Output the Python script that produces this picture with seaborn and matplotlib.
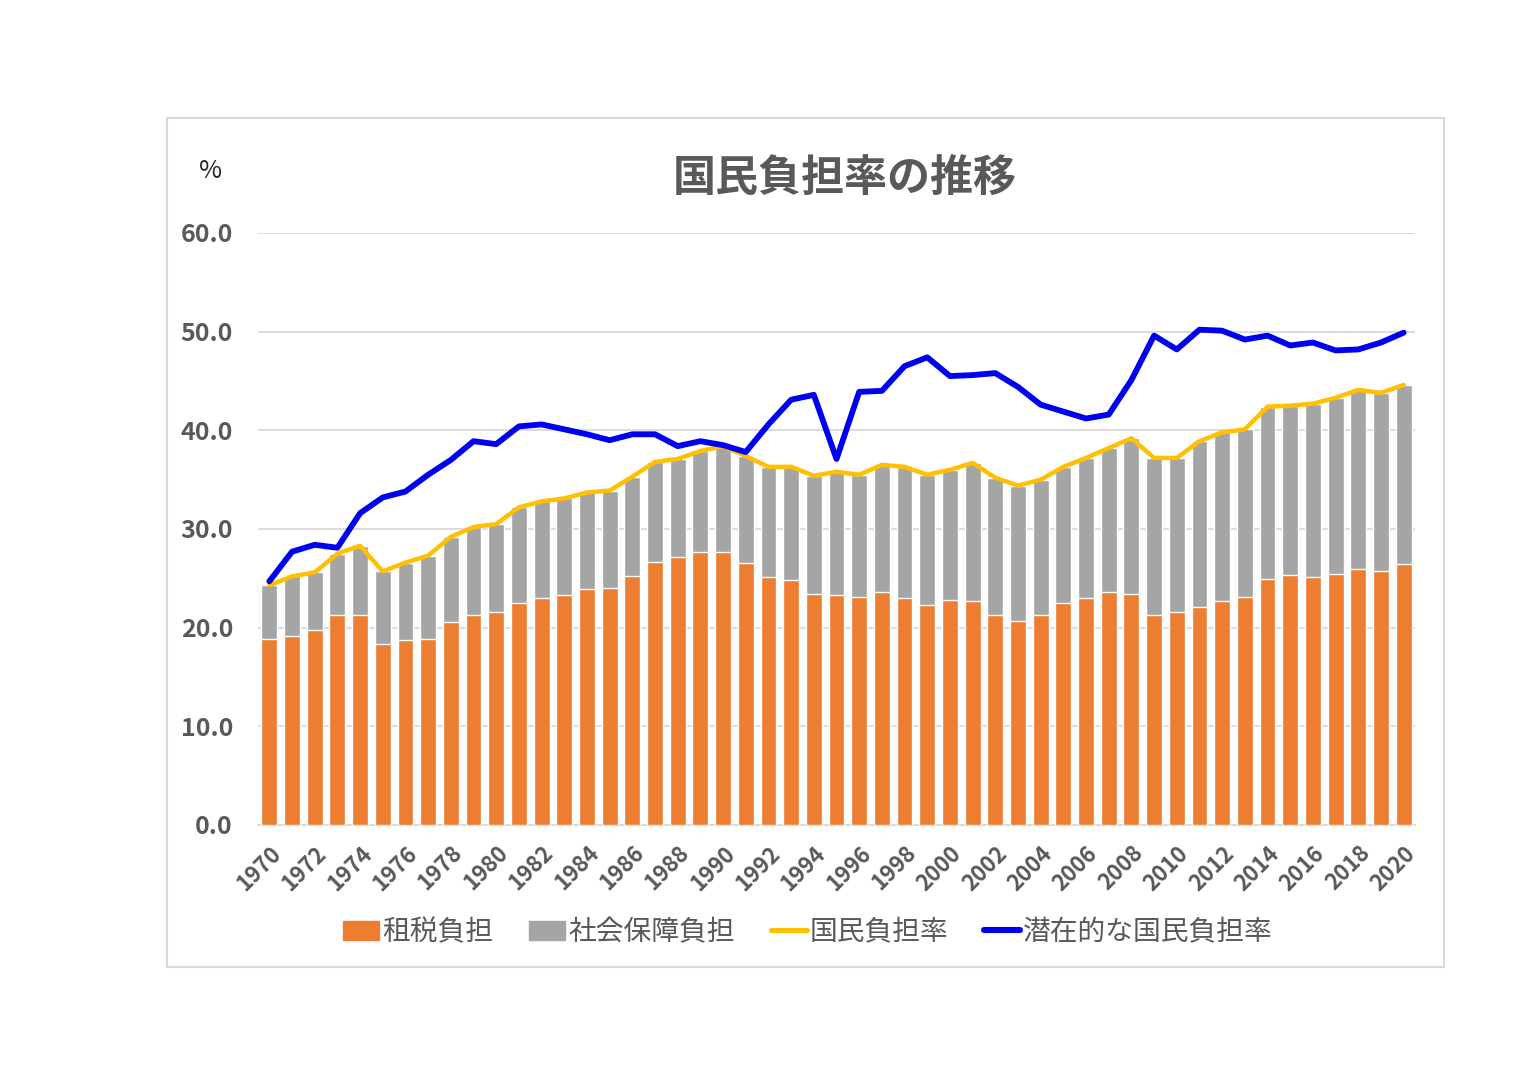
import numpy as np
import pandas as pd
import matplotlib
matplotlib.use("Agg")
import matplotlib.pyplot as plt
from matplotlib.patches import Rectangle, Patch
from matplotlib.lines import Line2D
import seaborn as sns

# 年度
years = list(range(1970, 2021))

# 租税負担 (%)
tax = [18.9, 19.2, 19.8, 21.3, 21.3, 18.3, 18.8, 18.9, 20.6, 21.3,
       21.6, 22.5, 23.0, 23.3, 23.9, 24.0, 25.2, 26.7, 27.2, 27.7,
       27.7, 26.6, 25.1, 24.8, 23.4, 23.3, 23.1, 23.6, 23.0, 22.3,
       22.8, 22.7, 21.3, 20.7, 21.3, 22.5, 23.0, 23.6, 23.4, 21.3,
       21.6, 22.1, 22.7, 23.1, 24.9, 25.3, 25.1, 25.4, 25.9, 25.7,
       26.5]

# 国民負担率 (%) = 租税負担 + 社会保障負担
burden = [24.3, 25.2, 25.6, 27.5, 28.3, 25.7, 26.6, 27.3, 29.2, 30.2,
          30.5, 32.2, 32.8, 33.1, 33.7, 33.9, 35.3, 36.8, 37.1, 37.9,
          38.4, 37.4, 36.3, 36.3, 35.4, 35.8, 35.5, 36.5, 36.3, 35.5,
          36.0, 36.7, 35.2, 34.4, 35.0, 36.3, 37.2, 38.2, 39.2, 37.2,
          37.2, 38.9, 39.8, 40.1, 42.4, 42.5, 42.7, 43.3, 44.1, 43.8,
          44.6]

# 潜在的な国民負担率 (%)
potential = [24.7, 27.7, 28.4, 28.1, 31.6, 33.2, 33.8, 35.5, 37.0, 38.9,
             38.6, 40.4, 40.6, 40.1, 39.6, 39.0, 39.6, 39.6, 38.4, 38.9,
             38.5, 37.8, 40.6, 43.1, 43.6, 37.1, 43.9, 44.0, 46.5, 47.4,
             45.5, 45.6, 45.8, 44.4, 42.6, 41.9, 41.2, 41.6, 45.1, 49.6,
             48.2, 50.2, 50.1, 49.2, 49.6, 48.6, 48.9, 48.1, 48.2, 48.9,
             49.9]

social = [round(b - t, 1) for b, t in zip(burden, tax)]

df = pd.DataFrame({"year": years, "tax": tax, "social": social,
                   "burden": burden, "potential": potential})
df["stack_top"] = df["tax"] + df["social"]

C_TAX = "#ED7D31"
C_SOC = "#A5A5A5"
C_BURDEN = "#FFC000"
C_POT = "#0000F0"
TXT = "#595959"
GRID = "#D9D9D9"

sns.set_theme(style="white")
plt.rcParams["font.family"] = ["Noto Sans CJK JP", "DejaVu Sans"]

fig = plt.figure(figsize=(15.36, 10.86), dpi=100)
ax = fig.add_axes([258 / 1536, 1 - 825 / 1086, (1415 - 258) / 1536, (825 - 233) / 1086])

# 積み上げ棒 (上段を先に描き、下段を重ねる)
sns.barplot(data=df, x="year", y="stack_top", native_scale=True, color=C_SOC,
            width=0.7, saturation=1, errorbar=None, ax=ax, zorder=2)
sns.barplot(data=df, x="year", y="tax", native_scale=True, color=C_TAX,
            width=0.7, saturation=1, errorbar=None, ax=ax, zorder=3)

sns.lineplot(data=df, x="year", y="burden", color=C_BURDEN, linewidth=3.2,
             ax=ax, zorder=4, solid_capstyle="round", solid_joinstyle="round")
sns.lineplot(data=df, x="year", y="potential", color=C_POT, linewidth=4.2,
             ax=ax, zorder=5, solid_capstyle="round", solid_joinstyle="round")

ax.set_xlim(1969.5, 2020.5)
ax.set_ylim(0, 60)
ax.set_yticks(np.arange(0, 61, 10))
ax.set_yticklabels([f"{v:.1f}" for v in np.arange(0, 61, 10)],
                   fontsize=18, fontweight="bold", color=TXT)
xt = years[::2]
ax.set_xticks(xt)
ax.set_xticklabels([str(y) for y in xt], rotation=45, ha="right",
                   rotation_mode="anchor", fontsize=16, fontweight="bold", color=TXT)
ax.tick_params(axis="y", length=0, pad=18)
ax.tick_params(axis="x", length=0, pad=12)
ax.yaxis.grid(True, color=GRID, linewidth=1.3, zorder=0)
ax.set_axisbelow(True)
for s in ["top", "right", "left"]:
    ax.spines[s].set_visible(False)
ax.spines["bottom"].set_color(GRID)
ax.spines["bottom"].set_linewidth(1.3)
ax.set_xlabel("")
ax.set_ylabel("")

fig.text(845 / 1536, 1 - 178 / 1086, "国民負担率の推移", ha="center", va="center",
         fontsize=31, fontweight="bold", color=TXT)
fig.text(211 / 1536, 1 - 171 / 1086, "%", ha="center", va="center",
         fontsize=18, color="#262626")

fig.patches.append(Rectangle((167 / 1536, 1 - 967 / 1086), (1444 - 167) / 1536,
                             (967 - 118) / 1086, transform=fig.transFigure,
                             fill=False, edgecolor=GRID, linewidth=1.5))

handles = [Patch(color=C_TAX), Patch(color=C_SOC),
           Line2D([], [], color=C_BURDEN, linewidth=3.6),
           Line2D([], [], color=C_POT, linewidth=4.4)]
labels = ["租税負担", "社会保障負担", "国民負担率", "潜在的な国民負担率"]
leg = fig.legend(handles, labels, loc="center", ncol=4, frameon=False,
                 bbox_to_anchor=(808 / 1536, 1 - 932 / 1086), fontsize=20,
                 handlelength=1.3, handletextpad=0.1, columnspacing=1.3)
for t in leg.get_texts():
    t.set_color(TXT)

fig.savefig("out.png", dpi=100, facecolor="white")
